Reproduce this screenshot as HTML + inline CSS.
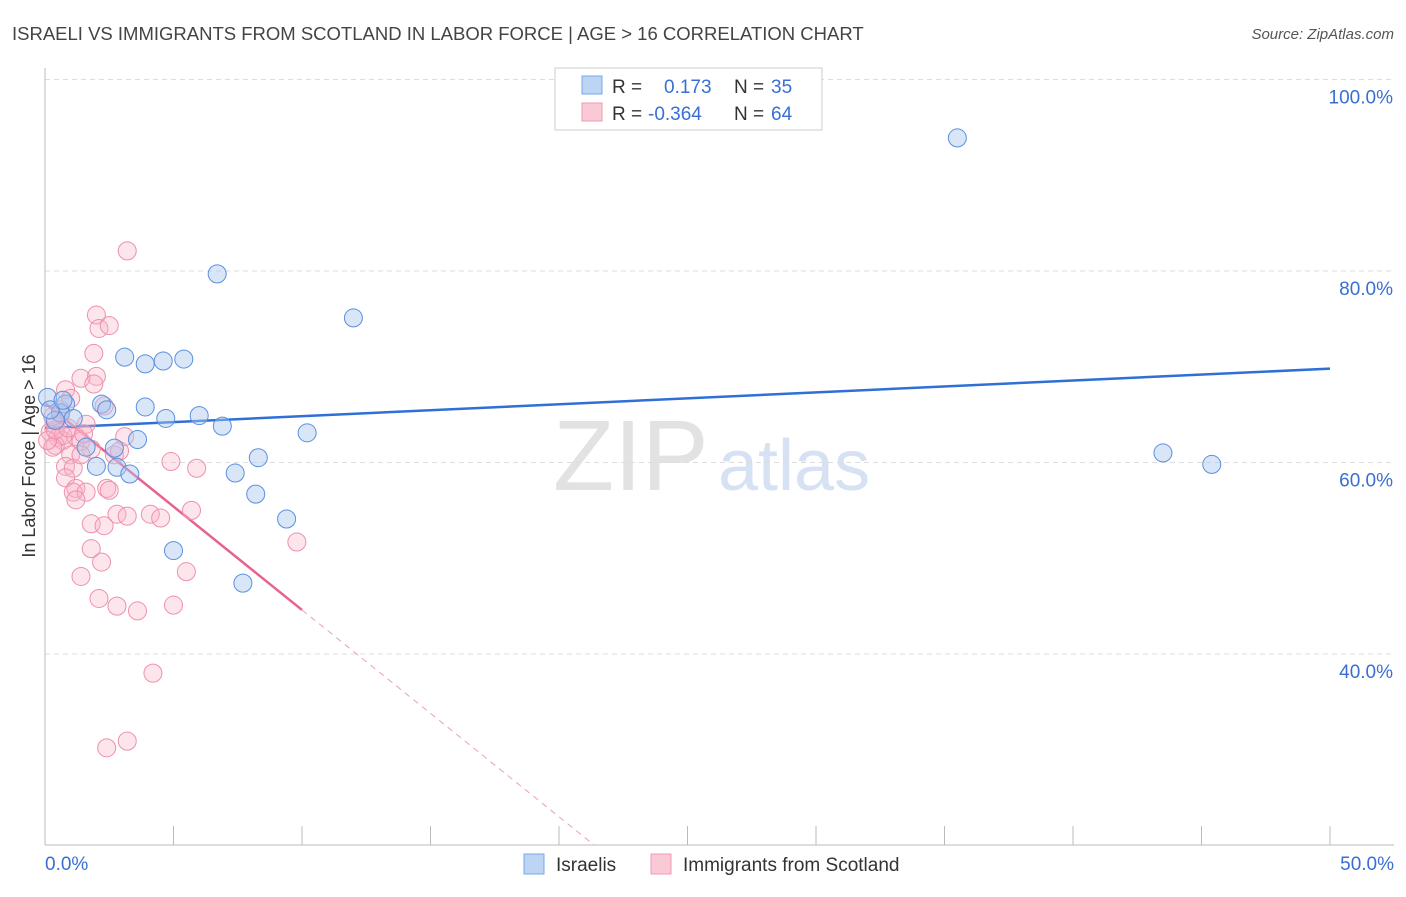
<!DOCTYPE html>
<html><head><meta charset="utf-8"><style>
body{margin:0;background:#fff;font-family:"Liberation Sans",sans-serif}
svg text{font-family:"Liberation Sans",sans-serif}
</style></head><body>
<svg id="chart" width="1406" height="892">
<text x="12" y="40" font-size="18.5" fill="#444">ISRAELI VS IMMIGRANTS FROM SCOTLAND IN LABOR FORCE | AGE &gt; 16 CORRELATION CHART</text>
<text x="1394" y="39" font-size="15" fill="#555" text-anchor="end" font-style="italic">Source: ZipAtlas.com</text>
<text x="35" y="456" font-size="18" fill="#333" text-anchor="middle" transform="rotate(-90 35 456)">In Labor Force | Age &gt; 16</text>
<text x="553" y="490" font-size="100" fill="#e2e2e2" font-family="Liberation Serif">ZIP</text>
<text x="718" y="490" font-size="72" fill="#d6e2f3">atlas</text>
<g id="grid"></g><g id="axes"></g><g id="lines"></g><g id="pts"></g>
<g>
<rect x="555" y="68" width="267" height="62" fill="#fff" stroke="#ccc"/>
<rect x="582" y="76" width="20" height="18" fill="#bcd5f5" stroke="#7aa7e6"/>
<rect x="582" y="103" width="20" height="18" fill="#f9c9d6" stroke="#ee9ab2"/>
<text x="612" y="93" font-size="19" fill="#333">R = </text><text x="664" y="93" font-size="19" fill="#3a6fd1">0.173</text>
<text x="734" y="93" font-size="19" fill="#333">N = </text><text x="771" y="93" font-size="19" fill="#3a6fd1">35</text>
<text x="612" y="120" font-size="19" fill="#333">R = </text><text x="648" y="120" font-size="19" fill="#3a6fd1">-0.364</text>
<text x="734" y="120" font-size="19" fill="#333">N = </text><text x="771" y="120" font-size="19" fill="#3a6fd1">64</text>
</g>
<g>
<rect x="524" y="854" width="20" height="20" fill="#bcd5f5" stroke="#7aa7e6"/>
<text x="556" y="871" font-size="19" fill="#333">Israelis</text>
<rect x="651" y="854" width="20" height="20" fill="#f9c9d6" stroke="#ee9ab2"/>
<text x="683" y="871" font-size="19" fill="#333">Immigrants from Scotland</text>
</g>
</svg>
<script>
const yTicks=[40,60,80,100];
const xTickLabels=["0.0%","50.0%"];
const blueX=[35.5,6.7,12.0,3.1,3.9,4.6,5.4,0.1,0.8,2.2,2.4,3.9,4.7,6.0,6.9,10.2,3.6,1.6,2.7,2.0,2.8,3.3,7.4,8.3,8.2,9.4,5.0,7.7,43.5,45.4,0.6,1.1,0.4,0.2,0.7];
const blueY=[93.9,79.7,75.1,71.0,70.3,70.6,70.8,66.8,66.1,66.1,65.5,65.8,64.6,64.9,63.8,63.1,62.4,61.6,61.5,59.6,59.5,58.8,58.9,60.5,56.7,54.1,50.8,47.4,61.0,59.8,65.2,64.6,64.4,65.5,66.5];
const pinkX=[3.2,2.0,2.1,2.5,1.9,2.0,1.4,1.9,0.8,1.0,2.3,1.6,0.6,0.4,0.2,0.5,0.7,0.4,1.2,1.4,1.8,1.0,0.8,1.1,0.8,1.2,1.1,1.6,1.2,3.1,2.7,4.9,5.9,2.4,2.5,2.8,3.2,4.1,4.5,5.7,1.8,2.3,1.8,2.2,9.8,5.5,1.4,2.1,2.8,3.6,5.0,4.2,3.2,2.4,0.7,0.3,0.1,0.4,0.9,1.4,0.6,1.5,0.3,2.9];
const pinkY=[82.1,75.4,74.0,74.3,71.4,69.0,68.8,68.2,67.6,66.7,65.9,64.0,65.5,63.9,63.2,62.6,62.3,61.8,62.7,62.2,61.4,60.8,59.6,59.4,58.4,57.3,56.9,56.9,56.1,62.7,60.8,60.1,59.4,57.3,57.1,54.6,54.4,54.6,54.2,55.0,53.6,53.4,51.0,49.6,51.7,48.6,48.1,45.8,45.0,44.5,45.1,38.0,30.9,30.2,62.8,61.6,62.3,63.4,63.6,60.8,65.0,63.0,64.8,61.2];
const blueTrend=[63.6,69.8];
const pinkTrend=[66.2,44.6];
const NS="http://www.w3.org/2000/svg";
const xs=v=>45+v/50*1285, ys=v=>271-(v-80)*9.575;
function mk(t,a,p){const e=document.createElementNS(NS,t);for(const k in a)e.setAttribute(k,a[k]);document.getElementById(p).appendChild(e);return e;}
yTicks.forEach(t=>{
 const g=mk('line',{x1:45,x2:1394,y1:ys(t),y2:ys(t),stroke:'#ddd','stroke-dasharray':'5,4'},'grid');
 
 
 const l=mk('text',{x:1393,y:ys(t)+24,'font-size':19,fill:'#3a6fd1','text-anchor':'end'},'grid');
 l.textContent=t.toFixed(1)+'%';
 
 
});
mk('line',{x1:45,x2:45,y1:68,y2:845,stroke:'#bbb'},'axes');
mk('line',{x1:45,x2:1394,y1:845,y2:845,stroke:'#bbb'},'axes');
for(let i=0;i<=10;i++){const x=xs(i*5);mk('line',{x1:x,x2:x,y1:826,y2:845,stroke:'#bbb'},'axes');}
const xl0=mk('text',{x:45,y:870,'font-size':19,fill:'#3a6fd1'},'axes');xl0.textContent=xTickLabels[0];


const xl1=mk('text',{x:1394,y:870,'font-size':19,fill:'#3a6fd1','text-anchor':'end'},'axes');xl1.textContent=xTickLabels[1];


const bt=mk('line',{x1:xs(0),y1:ys(blueTrend[0]),x2:xs(50),y2:ys(blueTrend[1]),stroke:'#2f6fd6','stroke-width':2.5},'lines');


const slope=(pinkTrend[1]-pinkTrend[0])/10;
const pt=mk('line',{x1:xs(0),y1:ys(pinkTrend[0]),x2:xs(10),y2:ys(pinkTrend[1]),stroke:'#e8628f','stroke-width':2.5},'lines');


const xe=(20-pinkTrend[0])/slope;
const pd=mk('line',{x1:xs(10),y1:ys(pinkTrend[1]),x2:xs(xe),y2:ys(20),stroke:'#e8a0b8','stroke-width':1,'stroke-dasharray':'6,5'},'lines');


pinkX.forEach((x,i)=>{const c=mk('circle',{cx:xs(x),cy:ys(pinkY[i]),r:9,fill:'rgba(248,180,200,0.35)',stroke:'#ee90ad','stroke-width':1},'pts');
 
 });
blueX.forEach((x,i)=>{const c=mk('circle',{cx:xs(x),cy:ys(blueY[i]),r:9,fill:'rgba(170,200,240,0.45)',stroke:'#5b8fe0','stroke-width':1},'pts');
 
 });
</script>
</body></html>
